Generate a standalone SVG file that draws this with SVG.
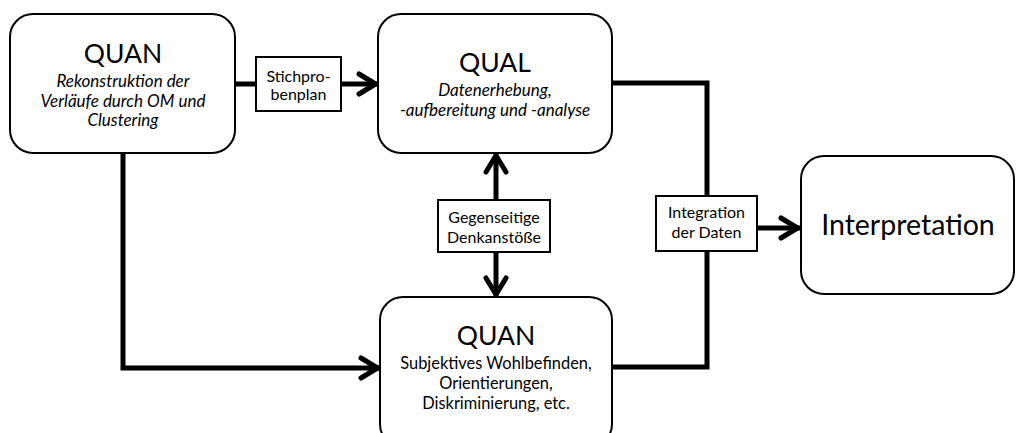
<svg xmlns="http://www.w3.org/2000/svg" width="1016" height="433" viewBox="0 0 1016 433">
<style>
.box{fill:#fff;stroke:#000;stroke-width:2}
.lbl{fill:#fff;stroke:#000;stroke-width:2}
.con{fill:none;stroke:#000;stroke-width:5;stroke-linejoin:miter}
text{font-family:Lato,"Liberation Sans",sans-serif;fill:#000;text-anchor:middle}
.t{font-size:26.5px}
.big{font-size:28.5px}
.s{font-size:16.4px}
.i{font-size:17px;font-style:italic}
.l{font-size:16px}
</style>
<defs>
<marker id="arr" markerUnits="userSpaceOnUse" viewBox="-24 -14 28 28" refX="0" refY="0" markerWidth="28" markerHeight="28" orient="auto" overflow="visible">
<path d="M-19,-10 L-2.5,0 L-19,10" fill="none" stroke="#000" stroke-width="5" stroke-linecap="round" stroke-linejoin="round"/>
</marker>
</defs>
<g id="connectors">
<path class="con" d="M235,84 H256"/>
<path class="con" d="M341,84 H378" marker-end="url(#arr)"/>
<path class="con" d="M612,83 H707 V196"/>
<path class="con" d="M612,367 H707 V251"/>
<path class="con" d="M757,228 H800" marker-end="url(#arr)"/>
<path class="con" d="M123,153 V368 H380" marker-end="url(#arr)"/>
<path class="con" d="M496,200 V153" marker-end="url(#arr)"/>
<path class="con" d="M496,252 V297" marker-end="url(#arr)"/>
</g>
<g id="quan1">
<rect class="box" x="10" y="14" width="225" height="139" rx="23"/>
<text class="t" x="123" y="63">QUAN</text>
<text class="i" x="123" y="87">Rekonstruktion der</text>
<text class="i" x="123" y="107">Verläufe durch OM und</text>
<text class="i" x="123" y="126">Clustering</text>
</g>
<g id="stichprobenplan">
<rect class="lbl" x="256" y="57" width="85" height="54"/>
<text class="l" x="298.5" y="82">Stichpro-</text>
<text class="l" x="298.5" y="100">benplan</text>
</g>
<g id="qual">
<rect class="box" x="378" y="14" width="234" height="139" rx="23"/>
<text class="t" x="495" y="72">QUAL</text>
<text class="i" x="495" y="96">Datenerhebung,</text>
<text class="i" x="495" y="116">-aufbereitung und -analyse</text>
</g>
<g id="denkanstoesse">
<rect class="lbl" x="438" y="200" width="112" height="52"/>
<text class="l" x="494" y="223">Gegenseitige</text>
<text class="l" x="494" y="243">Denkanstöße</text>
</g>
<g id="quan2">
<rect class="box" x="380" y="297" width="232" height="150" rx="23"/>
<text class="t" x="496" y="345">QUAN</text>
<text class="s" x="496" y="369">Subjektives Wohlbefinden,</text>
<text class="s" x="496" y="389">Orientierungen,</text>
<text class="s" x="496" y="409">Diskriminierung, etc.</text>
</g>
<g id="integration">
<rect class="lbl" x="656" y="196" width="101" height="55"/>
<text class="l" x="706.5" y="218">Integration</text>
<text class="l" x="706.5" y="238">der Daten</text>
</g>
<g id="interpretation">
<rect class="box" x="801" y="156" width="213" height="138" rx="23"/>
<text class="big" x="908" y="235">Interpretation</text>
</g>
</svg>
